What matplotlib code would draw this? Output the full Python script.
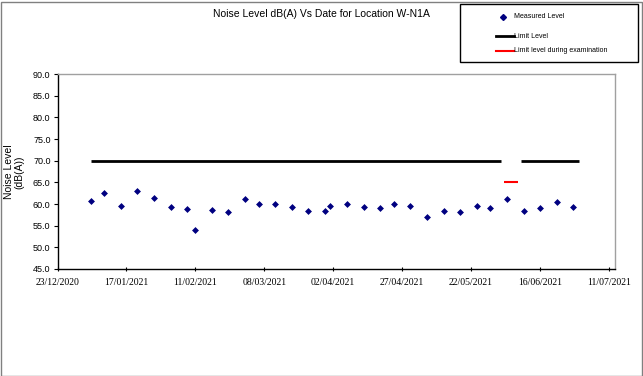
import matplotlib
matplotlib.use("Agg")
import matplotlib.pyplot as plt
import matplotlib.dates as mdates
from matplotlib.patches import Rectangle
from matplotlib.lines import Line2D
import datetime as dt

dates = ["2021-01-04", "2021-01-09", "2021-01-15", "2021-01-21", "2021-01-27", "2021-02-02",
         "2021-02-08", "2021-02-11", "2021-02-17", "2021-02-23", "2021-03-01", "2021-03-06",
         "2021-03-12", "2021-03-18", "2021-03-24", "2021-03-30", "2021-04-01", "2021-04-07",
         "2021-04-13", "2021-04-19", "2021-04-24", "2021-04-30", "2021-05-06", "2021-05-12",
         "2021-05-18", "2021-05-24", "2021-05-29", "2021-06-04", "2021-06-10", "2021-06-16",
         "2021-06-22", "2021-06-28"]
levels = [60.7, 62.6, 59.5, 63.1, 61.4, 59.2, 58.9, 54.1, 58.7, 58.1, 61.1, 59.9,
          60.1, 59.3, 58.5, 58.4, 59.5, 60.1, 59.4, 59.1, 60.1, 59.6, 57.1, 58.4,
          58.1, 59.6, 59.1, 61.1, 58.4, 59.1, 60.4, 59.3]

limit1_dates = ["2021-01-04", "2021-06-02"]
limit2_dates = ["2021-06-09", "2021-06-30"]
limit_value = [70.0, 70.0]
exam_dates = ["2021-06-03", "2021-06-08"]
exam_value = [65.0, 65.0]

xtick_dates = ["2020-12-23", "2021-01-17", "2021-02-11", "2021-03-08", "2021-04-02",
               "2021-04-27", "2021-05-22", "2021-06-16", "2021-07-11"]
yticks = [45, 50, 55, 60, 65, 70, 75, 80, 85, 90]

def p(d):
    return dt.datetime.strptime(d, "%Y-%m-%d")

W, H = 643, 376
fig = plt.figure(figsize=(W / 100, H / 100), dpi=100)
fig.patch.set_facecolor("white")
fig.add_artist(Rectangle((0.5 / W, 0.5 / H), 1 - 2 / W, 1 - 2 / H, transform=fig.transFigure,
                         fill=False, edgecolor="#808080", linewidth=1.0))

ax = fig.add_axes([57.5 / W, 1 - 269 / H, (614.5 - 57.5) / W, (269 - 74) / H])

ax.plot([p(d) for d in limit1_dates], limit_value, color="black", lw=2.0, solid_capstyle="butt")
ax.plot([p(d) for d in limit2_dates], limit_value, color="black", lw=2.0, solid_capstyle="butt")
ax.plot([p(d) for d in exam_dates], exam_value, color="#ff0000", lw=1.5, solid_capstyle="butt")
ax.plot([p(d) for d in dates], levels, linestyle="none", marker="D", ms=3.0,
        color="#000080", markeredgewidth=0.5)

ax.set_xlim(p("2020-12-23"), p("2021-07-13"))
ax.set_ylim(45, 90)
ax.set_yticks(yticks)
ax.set_yticklabels([f"{v:.1f}" for v in yticks], fontsize=6.5, family="Liberation Sans")
ax.set_xticks([p(d) for d in xtick_dates])
ax.set_xticklabels([p(d).strftime("%d/%m/%Y") for d in xtick_dates], fontsize=7,
                   family="Liberation Serif")
ax.tick_params(axis="y", length=3, width=0.8, pad=2, direction="out")
ax.tick_params(axis="x", length=3, width=0.8, pad=5, direction="inout")

for s in ["left", "bottom"]:
    ax.spines[s].set_color("black")
    ax.spines[s].set_linewidth(1.0)
for s in ["top", "right"]:
    ax.spines[s].set_color("#a0a0a0")
    ax.spines[s].set_linewidth(1.0)

fig.text(14 / W, 1 - 172 / H, "Noise Level\n(dB(A))", rotation=90, ha="center", va="center",
         fontsize=7.5, family="Liberation Sans", linespacing=1.0)

fig.text(321 / W, 1 - 14 / H, "Noise Level dB(A) Vs Date for Location W-N1A", ha="center",
         va="center", fontsize=7.5, family="Liberation Sans")

# legend box
fig.add_artist(Rectangle((460 / W, 1 - 62 / H), 178 / W, 58 / H, transform=fig.transFigure,
                         fill=False, edgecolor="black", linewidth=1.0))
fig.add_artist(Line2D([503 / W], [1 - 17 / H], transform=fig.transFigure, marker="D", ms=3,
                      color="#000080", linestyle="none"))
fig.add_artist(Line2D([496 / W, 514 / W], [1 - 36 / H] * 2, transform=fig.transFigure,
                      color="black", lw=2.0))
fig.add_artist(Line2D([496 / W, 514 / W], [1 - 51 / H] * 2, transform=fig.transFigure,
                      color="#ff0000", lw=1.5))
for y, t in [(17, "Measured Level"), (36, "Limit Level"), (51, "Limit level during examination")]:
    fig.text(514 / W, 1 - y / H, t, ha="left", va="center", fontsize=5,
             family="Liberation Sans")

fig.savefig("out.png", dpi=100, facecolor="white")
